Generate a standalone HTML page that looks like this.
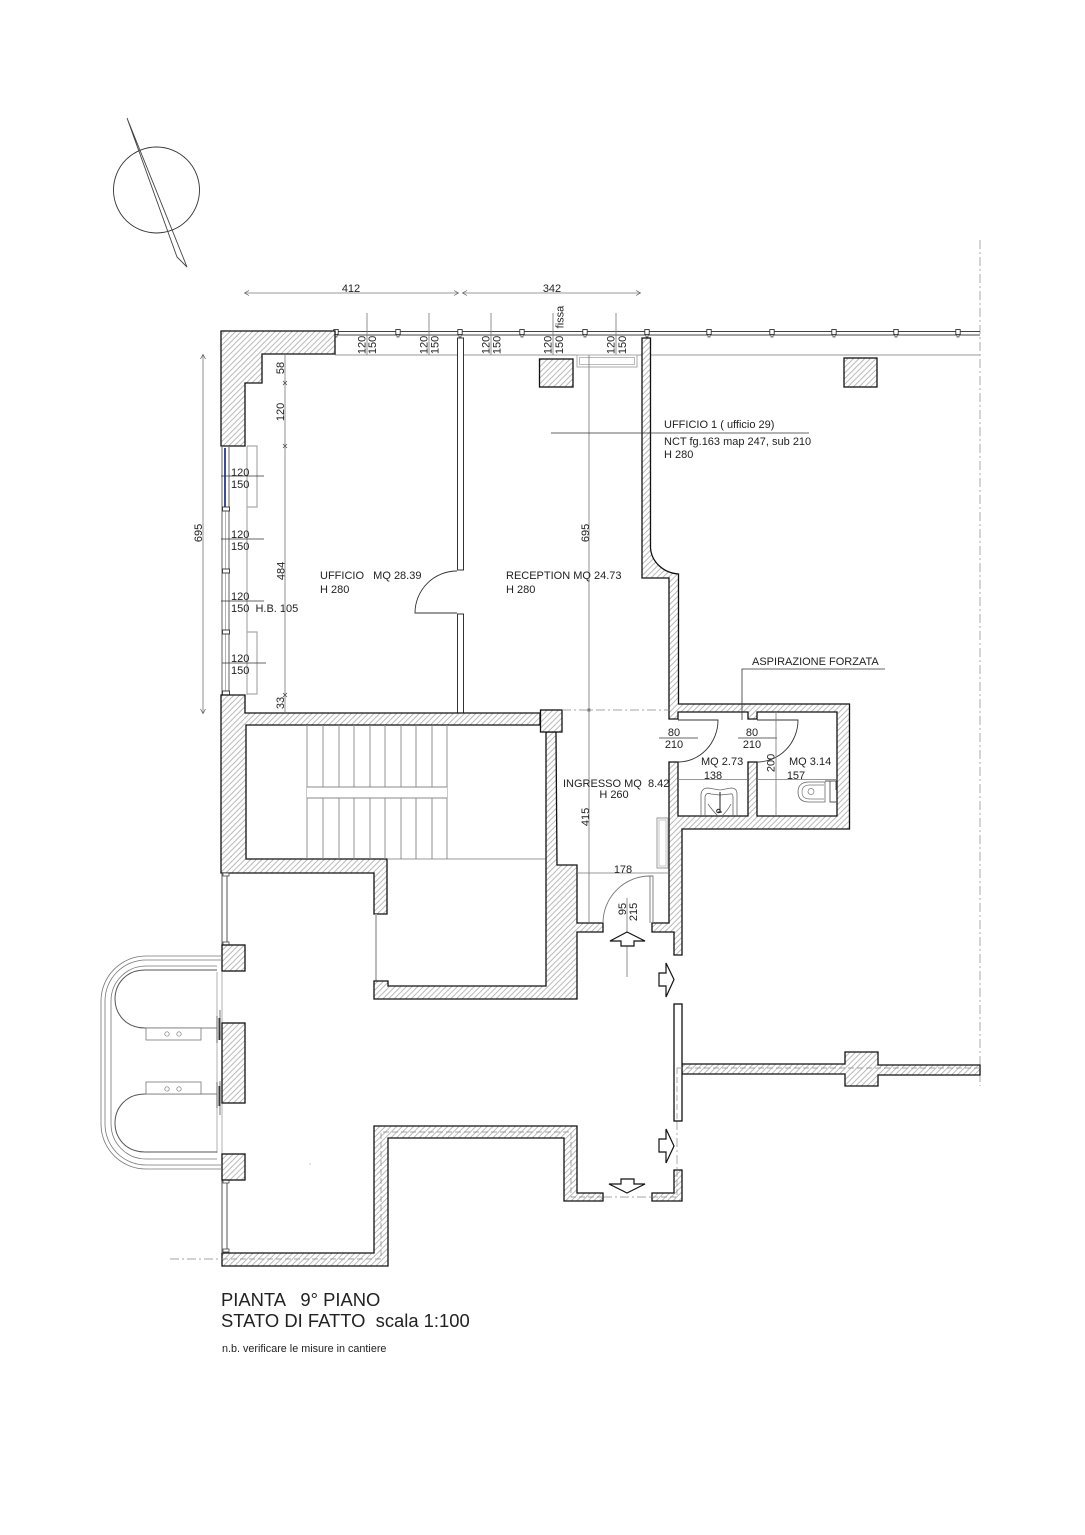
<!DOCTYPE html>
<html><head><meta charset="utf-8"><style>
html,body{margin:0;padding:0;background:#fff}
svg{display:block}
text{font-family:"Liberation Sans",sans-serif;font-size:11px;fill:#222;white-space:pre}
.w{fill:url(#h);stroke:#111;stroke-width:1.3;stroke-linejoin:miter}
.g{fill:none;stroke:#777;stroke-width:.8}
.k{fill:none;stroke:#333;stroke-width:.8}
.l{fill:none;stroke:#aaa;stroke-width:1.2}
.c{fill:none;stroke:#888;stroke-width:.7;stroke-dasharray:9 3 2 3}
.d{fill:none;stroke:#888;stroke-width:.7;stroke-dasharray:6 3}
.a{fill:#fff;stroke:#111;stroke-width:1.2}
.m{text-anchor:middle}
</style></head><body>
<svg width="1085" height="1535" viewBox="0 0 1085 1535" xmlns="http://www.w3.org/2000/svg">
<defs>
<pattern id="h" patternUnits="userSpaceOnUse" width="4" height="4" patternTransform="rotate(45)">
<rect width="4" height="4" fill="#fff"/><line x1="1" y1="0" x2="1" y2="4" stroke="#a8a8a8" stroke-width=".8"/>
</pattern>
<g id="mu"><rect x="-2.2" y="-3.5" width="4.4" height="5" fill="#fff" stroke="#333" stroke-width=".9"/><rect x="-1" y="1.5" width="2" height="2.5" fill="#fff" stroke="#333" stroke-width=".7"/></g>
<g id="mv"><rect x="-3.5" y="-2" width="7" height="4" fill="#fff" stroke="#333" stroke-width=".9"/></g>
</defs>
<rect width="1085" height="1535" fill="#fff"/>

<!-- compass -->
<circle cx="156.500" cy="190" r="43" fill="none" stroke="#333" stroke-width=".9"/>
<path d="M127 118L177 257L187 267L127 118" fill="none" stroke="#444" stroke-width=".9"/>

<!-- right dashed boundary -->
<path class="c" d="M980 240V1086" />

<!-- top dims -->
<path class="g" d="M245 293H458M463 293H640"/>
<path d="M249 290.500L244.500 293L249 295.500M454 290.500L458.500 293L454 295.500M467 290.500L462.500 293L467 295.500M636 290.500L640.500 293L636 295.500" fill="none" stroke="#555" stroke-width=".7"/>
<text class="m" x="351" y="292">412</text>
<text class="m" x="552" y="292">342</text>

<!-- curtain wall top -->
<path d="M335 331.500H980M335 335H980" fill="none" stroke="#444" stroke-width=".9"/>
<path d="M335 355H980" fill="none" stroke="#999" stroke-width=".9"/>
<use href="#mu" x="336" y="333"/><use href="#mu" x="398" y="333"/><use href="#mu" x="460" y="333"/><use href="#mu" x="522" y="333"/><use href="#mu" x="585" y="333"/><use href="#mu" x="647" y="333"/><use href="#mu" x="709" y="333"/><use href="#mu" x="772" y="333"/><use href="#mu" x="834" y="333"/><use href="#mu" x="896" y="333"/><use href="#mu" x="958" y="333"/>

<!-- vertical tags top -->
<path class="g" d="M367 313V355M429 313V355M491 313V355M553 313V355M616 313V355"/>
<g>
<text transform="translate(365.500 345) rotate(-90)" class="m">120</text><text transform="translate(376 345) rotate(-90)" class="m">150</text>
<text transform="translate(427.500 345) rotate(-90)" class="m">120</text><text transform="translate(438.500 345) rotate(-90)" class="m">150</text>
<text transform="translate(489.500 345) rotate(-90)" class="m">120</text><text transform="translate(500.500 345) rotate(-90)" class="m">150</text>
<text transform="translate(551.500 345) rotate(-90)" class="m">120</text><text transform="translate(563 345) rotate(-90)" class="m">150</text>
<text transform="translate(614.500 345) rotate(-90)" class="m">120</text><text transform="translate(626 345) rotate(-90)" class="m">150</text>
<text transform="translate(563.500 317) rotate(-90)" class="m">fissa</text>
</g>

<!-- top-left wall -->
<polygon class="w" points="221,331 335,331 335,354 262,354 262,383 245,383 245,446 221,446"/>

<!-- partition + door -->
<rect x="457.500" y="338" width="6" height="232" fill="#fff" stroke="#333" stroke-width="1"/>
<rect x="457.500" y="614" width="6" height="99" fill="#fff" stroke="#333" stroke-width="1"/>
<path d="M457 571A42 42 0 0 0 415 613H457" fill="none" stroke="#333" stroke-width=".9"/>

<!-- columns -->
<rect class="w" x="539.500" y="359" width="33.500" height="28"/>
<rect class="w" x="844" y="358" width="33" height="29"/>
<rect x="577" y="355" width="60" height="12" fill="#fff" stroke="#aaa" stroke-width="1"/>
<rect x="579.500" y="357.500" width="55" height="7" fill="#fff" stroke="#aaa" stroke-width=".8"/>

<!-- left window -->
<path d="M222 446V695M229 446V695" fill="none" stroke="#666" stroke-width="1"/>
<path d="M225 448V507" fill="none" stroke="#3a4d9c" stroke-width="2"/>
<path d="M225.500 510V693" fill="none" stroke="#aaa" stroke-width=".9"/>
<use href="#mv" x="226" y="509"/><use href="#mv" x="226" y="571"/><use href="#mv" x="226" y="632"/><use href="#mv" x="226" y="693"/>
<path class="l" d="M247 446V695M247 446H257V507H247M247 632H257V694H247"/>

<!-- left tags -->
<path class="k" d="M221 476H264M221 539H264M221 601H264M222 663H266"/>
<text x="231" y="476">120</text><text x="231" y="488">150</text>
<text x="231" y="538">120</text><text x="231" y="550">150</text>
<text x="231" y="600">120</text><text x="231" y="612">150  H.B. 105</text>
<text x="231" y="662">120</text><text x="231" y="674">150</text>

<!-- chain dims -->
<path class="g" d="M285 354V712"/>
<path d="M283 381l4 4m0-4l-4 4M283 444l4 4m0-4l-4 4M283 693l4 4m0-4l-4 4" stroke="#444" stroke-width=".7" fill="none"/>
<text transform="translate(284 368) rotate(-90)" class="m">58</text>
<text transform="translate(284 412) rotate(-90)" class="m">120</text>
<text transform="translate(284.500 571) rotate(-90)" class="m">484</text>
<text transform="translate(284 703) rotate(-90)" class="m">33</text>
<path class="g" d="M203 355V713"/>
<path d="M200.500 359L203 354.500L205.500 359M200.500 709L203 713.500L205.500 709" fill="none" stroke="#555" stroke-width=".7"/>
<text transform="translate(202 533) rotate(-90)" class="m">695</text>

<!-- stair enclosure -->
<polygon class="w" points="221,695 245,695 245,713 540,713 540,725 246,725 246,859 387,859 387,914 374,914 374,873 221,873"/>
<path d="M307 725V859M323 725V859M339 725V859M354 725V859M370 725V859M385 725V859M401 725V859M416 725V859M432 725V859M447 725V859" stroke="#888" stroke-width=".9" fill="none"/>
<rect x="307" y="787.500" width="140" height="10" fill="#fff"/>
<path d="M307 787H447M307 798H447" stroke="#888" stroke-width=".9" fill="none"/>
<path class="g" d="M387 859H546"/>
<path d="M376 914V981" fill="none" stroke="#aaa" stroke-width="1.6"/>

<!-- stair right wall -->
<polygon class="w" points="546,732 556,732 557,865 577,865 577,923 603,923 603,932 577,932 577,999 374,999 374,981 388,981 388,986 546,986"/>
<rect class="w" x="540.500" y="710" width="21.500" height="22"/>

<!-- east wall + WCs -->
<path class="w" d="M642 338H650.500V548A30 28 0 0 0 678.500 574V704H849.500V829H682V955H674V932H652V923H669V762H678V816H748V762H757V816H837V712H757V719H748V712H678V719H669V578H642Z"/>

<!-- doors WC -->
<path d="M678 720H718A40 42 0 0 1 678 762" fill="none" stroke="#333" stroke-width=".9"/>
<path d="M757 720H798A41 42 0 0 1 757 762" fill="none" stroke="#333" stroke-width=".9"/>
<path class="k" d="M659 738H698M738 738H777"/>
<text class="m" x="674" y="736">80</text><text class="m" x="674" y="748">210</text>
<text class="m" x="752" y="736">80</text><text class="m" x="752" y="748">210</text>

<!-- aspiration -->
<path class="k" d="M742 720V669H885"/>
<text x="752" y="665">ASPIRAZIONE FORZATA</text>

<!-- WC dims -->
<path class="g" d="M776 712V816"/>
<path class="g" d="M678 779.500H748M757 779.500H837"/>
<text transform="translate(774.500 763) rotate(-90)" class="m">200</text>
<text x="701" y="765">MQ 2.73</text><text class="m" x="713" y="779">138</text>
<text x="789" y="765">MQ 3.14</text><text class="m" x="796" y="779">157</text>

<!-- sink -->
<path d="M701 816V794Q702 788 708 788L720 790L731 788Q737 788 737 794V816M705 816V797Q706 792 711 794L720 795L730 794Q733 793 733 797V816M718 816Q712 810 708 804M722 816Q728 810 731 804" fill="none" stroke="#666" stroke-width=".8"/>
<path d="M718 812H722M720 792V813" stroke="#222" stroke-width="1" fill="none"/><circle cx="718.500" cy="811" r="1.800" fill="none" stroke="#222" stroke-width="1"/>

<!-- toilet -->
<path d="M825 782H809Q798 782 798 792Q798 802 809 802H825Z" fill="#fff" stroke="#666" stroke-width=".8"/>
<path d="M824 785H810Q802 785 802 792Q802 799 810 799H824" fill="none" stroke="#777" stroke-width=".7"/>
<circle cx="811" cy="791.500" r="3" fill="none" stroke="#777" stroke-width=".7"/>
<path d="M825 781H830V802H837M830 781H836V790" fill="none" stroke="#555" stroke-width=".9"/>

<!-- ingresso -->
<path class="g" d="M589 355V923"/>
<path class="c" d="M562 710H670"/>
<rect x="587.500" y="708.500" width="3" height="3" fill="#777"/>
<rect x="657" y="818" width="11" height="50" fill="#fff" stroke="#999" stroke-width="1"/>
<rect x="659" y="820" width="7" height="46" fill="#fff" stroke="#bbb" stroke-width=".8"/>
<path class="g" d="M577 873H669"/>
<text class="m" x="623" y="873">178</text>
<text x="563" y="787">INGRESSO MQ  8.42</text>
<text class="m" x="614" y="798">H 260</text>
<text transform="translate(589 817) rotate(-90)" class="m">415</text>
<text x="320" y="579">UFFICIO   MQ 28.39</text><text x="320" y="593">H 280</text>
<text x="506" y="579">RECEPTION MQ 24.73</text><text x="506" y="593">H 280</text>
<text transform="translate(589 533) rotate(-90)" class="m">695</text>
<path class="k" d="M551 433H809"/>
<text x="664" y="428">UFFICIO 1 ( ufficio 29)</text>
<text x="664" y="445">NCT fg.163 map 247, sub 210</text>
<text x="664" y="458">H 280</text>

<!-- entry door -->
<path d="M603 923A47 47 0 0 1 650 876H653V923M650 876V923" fill="none" stroke="#777" stroke-width=".9"/>
<path class="g" d="M627 898V977"/>
<text transform="translate(626 909) rotate(-90)" class="m">95</text>
<text transform="translate(637 912) rotate(-90)" class="m">215</text>
<polygon class="a" points="627,932 645,941 634,941 634,946 621,946 621,941 610,941"/>
<polygon class="a" points="659,973 666,973 666,963 674,979.500 666,997 666,986 659,986"/>
<polygon class="a" points="659,1139 666,1139 666,1129 674,1146 666,1163 666,1152 659,1152"/>
<polygon class="a" points="621,1179 634,1179 634,1184 645,1184 627,1193 609,1184 621,1184"/>
<path class="c" d="M603 1197H652M677 1121V1170"/>

<!-- west windows and piers -->
<path d="M222 873V945M227 875V943" fill="none" stroke="#555" stroke-width="1"/>
<path d="M222 1180V1252M227 1182V1250" fill="none" stroke="#555" stroke-width="1"/>
<rect x="223" y="873" width="6" height="3" fill="#fff" stroke="#444" stroke-width=".8"/>
<rect x="223" y="942" width="6" height="3" fill="#fff" stroke="#444" stroke-width=".8"/>
<rect x="223" y="1180" width="6" height="3" fill="#fff" stroke="#444" stroke-width=".8"/>
<rect x="223" y="1249" width="6" height="3" fill="#fff" stroke="#444" stroke-width=".8"/>
<path d="M217 972V1153M222 972V1023M222 1103V1154" fill="none" stroke="#aaa" stroke-width=".9"/>
<rect class="w" x="222" y="945" width="23" height="26"/>
<rect class="w" x="222" y="1023" width="23" height="80"/>
<rect class="w" x="222" y="1154" width="23" height="26"/>

<!-- balcony -->
<path d="M222 956H146A45 45 0 0 0 101 1001V1124A45 45 0 0 0 146 1169H222" class="g"/>
<path d="M222 960H146A41 41 0 0 0 105 1001V1124A41 41 0 0 0 146 1165H222" class="g"/>
<path d="M217 966H146A35 35 0 0 0 111 1001V1124A35 35 0 0 0 146 1159H217" class="g"/>
<path d="M217 970H145C125 970 115 985 115 999C115 1013 125 1028 145 1028H201" fill="none" stroke="#555" stroke-width="1"/>
<path d="M217 1152H145C125 1152 115 1137 115 1123C115 1109 125 1094 145 1094H201" fill="none" stroke="#555" stroke-width="1"/>
<path d="M201 1028H217M201 1094H217" fill="none" stroke="#aaa" stroke-width="1.4"/>
<rect x="146" y="1028" width="55" height="12" fill="#fff" stroke="#777" stroke-width=".8"/>
<rect x="146" y="1082" width="55" height="12" fill="#fff" stroke="#777" stroke-width=".8"/>
<circle cx="167" cy="1034" r="2.200" fill="none" stroke="#777" stroke-width=".7"/><circle cx="179" cy="1034" r="2.200" fill="none" stroke="#777" stroke-width=".7"/>
<circle cx="167" cy="1089" r="2.200" fill="none" stroke="#777" stroke-width=".7"/><circle cx="179" cy="1089" r="2.200" fill="none" stroke="#777" stroke-width=".7"/>
<path d="M219.500 1018V1040M219.500 1086V1106" stroke="#333" stroke-width="2" fill="none"/>
<path d="M217 1016V1043M220 1010V1032M217 1082V1108M220 1081V1115" stroke="#444" stroke-width=".7" fill="none"/>

<!-- south room wall -->
<polygon class="w" points="222,1253 374,1253 374,1126 577,1126 577,1193 603,1193 603,1201 564,1201 564,1138 388,1138 388,1266 222,1266"/>
<path class="d" d="M222 1259H381V1132H571V1197H603"/>
<path class="c" d="M170 1259H222"/>
<rect x="309.500" y="1163.500" width="1" height="1" fill="#999"/>

<!-- SE wall pieces -->
<polygon class="w" points="652,1193 674,1193 674,1170 682,1170 682,1201 652,1201"/>
<path class="w" d="M682 1064H845V1052H878V1065H980V1075H878V1086H845V1074H682Z"/>
<rect x="674" y="1004" width="8" height="117" fill="#fff" stroke="#111" stroke-width="1.3"/>
<path class="d" d="M677 1068V1121M677 1068H980M677 1171V1197H652"/>

<!-- title -->
<text x="221" y="1306" style="font-size:18.400px">PIANTA   9° PIANO</text>
<text x="221" y="1327" style="font-size:18.400px">STATO DI FATTO  scala 1:100</text>
<text x="222" y="1352" style="font-size:10.800px">n.b. verificare le misure in cantiere</text>
</svg>
</body></html>
